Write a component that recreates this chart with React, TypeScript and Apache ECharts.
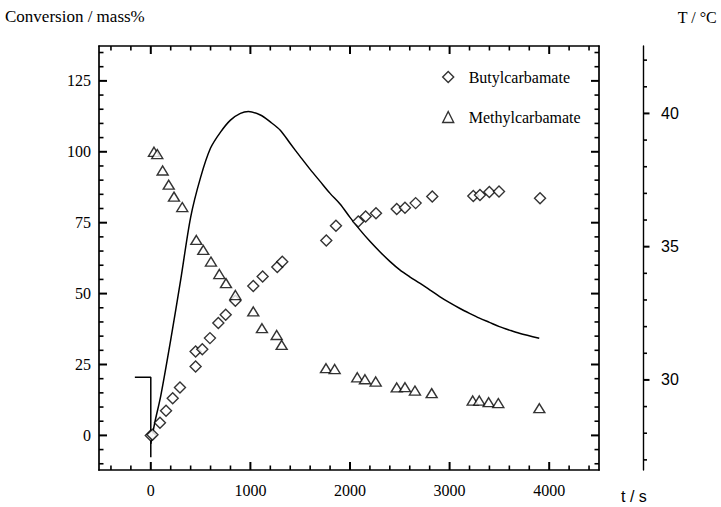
import React, { useEffect, useRef } from "react";
import * as echarts from "echarts";

// Butylcarbamate conversion (mass%) vs time (s)
const butylTime = [0, 17, 92, 153, 220, 293, 450, 450, 517, 594, 678, 752, 849, 1029, 1123, 1270, 1320, 1762, 1859, 2083, 2157, 2261, 2469, 2552, 2659, 2826, 3238, 3305, 3399, 3496, 3908];
const butylConv = [0, 0.2, 4.5, 8.7, 13.1, 16.9, 24.3, 29.6, 30.4, 34.3, 39.6, 42.5, 47.5, 52.7, 56.0, 59.4, 61.2, 68.7, 73.9, 75.4, 77.2, 78.3, 79.8, 80.3, 81.9, 84.2, 84.4, 84.8, 85.8, 86.0, 83.6];

// Methylcarbamate (mass%) vs time (s)
const methylTime = [32, 65, 119, 180, 233, 316, 457, 527, 604, 688, 755, 849, 1029, 1116, 1264, 1314, 1759, 1846, 2073, 2150, 2258, 2469, 2552, 2652, 2820, 3232, 3298, 3392, 3489, 3901];
const methylConv = [100, 99.2, 93.4, 88.4, 84.2, 80.5, 68.9, 65.4, 61.3, 56.9, 53.7, 49.5, 43.7, 37.8, 35.4, 31.9, 23.7, 23.4, 20.5, 19.8, 19.0, 16.9, 17.0, 15.8, 14.9, 12.3, 12.3, 11.7, 11.4, 9.6];

// Temperature (°C): initial step and reaction curve
const stepTime = [-160, 0, 0];
const stepTemp = [30.1, 30.1, 27.1];
const curveTime = [0, 40, 100, 200, 300, 400, 500, 600, 700, 800, 900, 980, 1100, 1200, 1300, 1400, 1500, 1600, 1700, 1800, 1900, 2000, 2100, 2200, 2300, 2400, 2500, 2600, 2700, 2800, 2900, 3000, 3100, 3200, 3300, 3400, 3500, 3600, 3700, 3900];
const curveTemp = [27.6, 28.4, 29.4, 31.5, 33.75, 36.1, 37.6, 38.7, 39.3, 39.75, 40.0, 40.07, 39.94, 39.68, 39.37, 38.87, 38.38, 37.9, 37.45, 37.0, 36.6, 36.1, 35.63, 35.2, 34.81, 34.45, 34.13, 33.87, 33.63, 33.38, 33.13, 32.9, 32.69, 32.5, 32.32, 32.16, 32.0, 31.87, 31.75, 31.56];

// Tick positions (axis values)
const xMajorTicks = [0, 1000, 2000, 3000, 4000];
const xMinorTicks = [-400, -200, 200, 400, 600, 800, 1200, 1400, 1600, 1800, 2200, 2400, 2600, 2800, 3200, 3400, 3600, 3800, 4200, 4400];
const yMajorTicks = [0, 25, 50, 75, 100, 125];
const yMinorTicks = [-10, -5, 5, 10, 15, 20, 30, 35, 40, 45, 55, 60, 65, 70, 80, 85, 90, 95, 105, 110, 115, 120, 130, 135];
const tMajorTicks = [30, 35, 40];
const tMinorTicks = [27, 28, 29, 31, 32, 33, 34, 36, 37, 38, 39, 41, 42];

const legendNames = ["Butylcarbamate", "Methylcarbamate"];

const zip = (a: number[], b: number[]) => a.map((v, i) => [v, b[i]]);

export default function App() {
  const ref = useRef<HTMLDivElement>(null);
  useEffect(() => {
    const chart = echarts.init(ref.current!, null, { renderer: "svg" });
    const serif = '"Liberation Serif", "Times New Roman", serif';
    const sans = '"Liberation Sans", Arial, sans-serif';
    const ink = "#000";
    const X_MIN = -520, X_MAX = 4500;
    const Y_MIN = -12.2, Y_MAX = 137.3;
    const T_MIN = 26.62, T_MAX = 42.53;
    const T_OFFSET = 44;
    const rect = { left: 99, top: 46, width: 500, height: 424 };

    const ax = (gridIndex: number, position: string, min: number, max: number, label: any, offset = 0) => ({
      type: "value",
      gridIndex,
      position,
      offset,
      min,
      max,
      axisLine: { show: true, onZero: false, lineStyle: { color: ink, width: 1.7 } },
      axisTick: { show: false },
      axisLabel: label || { show: false },
      splitLine: { show: false },
    });

    const lbl = (margin: number, font: string) => ({
      show: true,
      margin,
      fontFamily: font,
      fontSize: 16,
      color: "#000",
      showMinLabel: false,
      showMaxLabel: false,
      formatter: (v: number) => String(v),
    });

    const xAxis0: any = ax(0, "bottom", X_MIN, X_MAX, lbl(12, serif));
    xAxis0.minInterval = 1000;
    xAxis0.maxInterval = 1000;
    const yAxis0: any = ax(0, "left", Y_MIN, Y_MAX, lbl(8, serif));
    yAxis0.minInterval = 25;
    yAxis0.maxInterval = 25;
    const tAxis: any = ax(0, "right", T_MIN, T_MAX, lbl(18, sans), T_OFFSET);
    tAxis.minInterval = 5;
    tAxis.maxInterval = 5;
    tAxis.axisLine.lineStyle.width = 1.4;

    // frame ticks: [kind (0 = x, 1 = y), value, length, width]
    const frameTicks = [
      ...xMajorTicks.map((v) => [0, v, 8, 2]),
      ...xMinorTicks.map((v) => [0, v, 4.5, 1.6]),
      ...yMajorTicks.map((v) => [1, v, 8, 2]),
      ...yMinorTicks.map((v) => [1, v, 4.5, 1.6]),
    ];
    // temperature ticks: [value, length, width]
    const tempTicks = [...tMajorTicks.map((v) => [v, 6.5, 2]), ...tMinorTicks.map((v) => [v, 4, 1.6])];

    const markerStyle = { color: "#fff", borderColor: "#000", borderWidth: 1.4 };

    chart.setOption({
      animation: false,
      backgroundColor: "#fff",
      grid: [rect, rect].map((r) => ({ ...r, containLabel: false })),
      xAxis: [xAxis0, ax(1, "top", X_MIN, X_MAX, null)],
      yAxis: [yAxis0, tAxis, ax(1, "right", Y_MIN, Y_MAX, null)],
      legend: {
        data: legendNames,
        orient: "vertical",
        left: 437,
        top: 63,
        itemWidth: 11,
        itemHeight: 11,
        itemGap: 22,
        itemStyle: markerStyle,
        textStyle: { fontFamily: serif, fontSize: 16, color: "#000", lineHeight: 18, padding: [0, 0, 0, 10] },
      },
      graphic: [
        { type: "text", left: 5, top: 8, style: { text: "Conversion / mass%", font: `17px ${serif}`, fill: "#000" } },
        { type: "text", right: 4, top: 9, style: { text: "T / °C", font: `16px ${serif}`, fill: "#000" } },
        { type: "text", left: 621, top: 488, style: { text: "t / s", font: `16px ${sans}`, fill: "#000" } },
      ],
      series: [
        {
          name: "frame ticks",
          type: "custom",
          coordinateSystem: "cartesian2d",
          xAxisIndex: 0,
          yAxisIndex: 0,
          silent: true,
          clip: false,
          z: 4,
          data: frameTicks,
          renderItem: (params: any, api: any) => {
            const kind = api.value(0);
            const v = api.value(1);
            const len = api.value(2);
            const w = api.value(3);
            if (kind === 0) {
              const b = api.coord([v, Y_MIN]);
              const t = api.coord([v, Y_MAX]);
              return {
                type: "group",
                children: [
                  { type: "line", shape: { x1: b[0], y1: b[1], x2: b[0], y2: b[1] - len }, style: { stroke: ink, lineWidth: w } },
                  { type: "line", shape: { x1: t[0], y1: t[1], x2: t[0], y2: t[1] + len }, style: { stroke: ink, lineWidth: w } },
                ],
              };
            }
            const l = api.coord([X_MIN, v]);
            const r = api.coord([X_MAX, v]);
            return {
              type: "group",
              children: [
                { type: "line", shape: { x1: l[0], y1: l[1], x2: l[0] + len, y2: l[1] }, style: { stroke: ink, lineWidth: w } },
                { type: "line", shape: { x1: r[0], y1: r[1], x2: r[0] - len, y2: r[1] }, style: { stroke: ink, lineWidth: w } },
              ],
            };
          },
        },
        {
          name: "temperature ticks",
          type: "custom",
          coordinateSystem: "cartesian2d",
          xAxisIndex: 0,
          yAxisIndex: 1,
          silent: true,
          clip: false,
          z: 4,
          data: tempTicks,
          renderItem: (params: any, api: any) => {
            const v = api.value(0);
            const len = api.value(1);
            const w = api.value(2);
            const p = api.coord([X_MAX, v]);
            const x = p[0] + T_OFFSET;
            return { type: "line", shape: { x1: x, y1: p[1], x2: x + len, y2: p[1] }, style: { stroke: ink, lineWidth: w } };
          },
        },
        {
          name: "T step",
          type: "line",
          xAxisIndex: 0,
          yAxisIndex: 1,
          data: zip(stepTime, stepTemp),
          showSymbol: false,
          lineStyle: { color: "#000", width: 1.5 },
          z: 2,
          silent: true,
        },
        {
          name: "T",
          type: "line",
          xAxisIndex: 0,
          yAxisIndex: 1,
          data: zip(curveTime, curveTemp),
          smooth: 0.3,
          showSymbol: false,
          lineStyle: { color: "#000", width: 1.5 },
          z: 2,
          silent: true,
        },
        {
          name: legendNames[0],
          type: "scatter",
          xAxisIndex: 0,
          yAxisIndex: 0,
          data: zip(butylTime, butylConv),
          symbol: "diamond",
          symbolSize: [11, 11],
          itemStyle: markerStyle,
          z: 3,
        },
        {
          name: legendNames[1],
          type: "scatter",
          xAxisIndex: 0,
          yAxisIndex: 0,
          data: zip(methylTime, methylConv),
          symbol: "triangle",
          symbolSize: [11, 9],
          itemStyle: markerStyle,
          z: 3,
        },
      ],
    });
    return () => chart.dispose();
  }, []);
  return <div ref={ref} style={{ position: "fixed", left: 0, top: 0, width: 721, height: 507 }} />;
}
